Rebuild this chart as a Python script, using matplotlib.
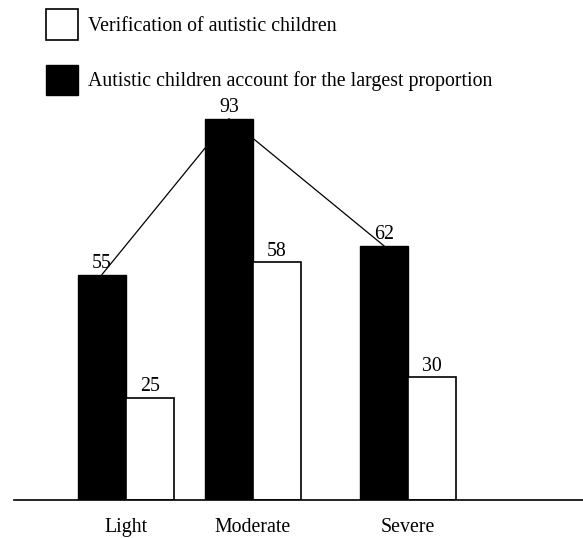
import matplotlib
matplotlib.use("Agg")
import matplotlib.pyplot as plt
import numpy as np

# ---- data ----
categories = ["Light", "Moderate", "Severe"]
largest_proportion = [55, 93, 62]   # black bars
verification = [25, 58, 30]         # white bars
label_black = "Autistic children account for the largest proportion"
label_white = "Verification of autistic children"

# ---- layout ----
group_pos = np.array([0.0, 1.0, 2.22])
bar_w = 0.378

plt.rcParams["font.family"] = ["Liberation Serif", "DejaVu Serif"]

W, H = 583, 538
fig = plt.figure(figsize=(W / 100, H / 100), dpi=100)
ax = fig.add_axes([14 / W, 38 / H, 1 - 14 / W, 1 - 38 / H])

b1 = ax.bar(group_pos - bar_w / 2, largest_proportion, bar_w, color="black",
            edgecolor="black", linewidth=1.0, zorder=2, label=label_black)
b2 = ax.bar(group_pos + bar_w / 2, verification, bar_w, color="white",
            edgecolor="black", linewidth=1.2, zorder=2, label=label_white)
ax.plot(group_pos - bar_w / 2, largest_proportion, color="black", lw=0.9, zorder=1)

ax.bar_label(b1, padding=1, fontsize=14.3)
ax.bar_label(b2, padding=1, fontsize=14.3)

ax.set_xlim((14 - 126) / 127, (583 - 126) / 127)
ax.set_ylim(0, 500 / 4.1)
ax.set_xticks(group_pos)
ax.set_xticklabels(categories, fontsize=14.3)
ax.tick_params(axis="x", length=0, pad=13)
ax.set_yticks([])
for s in ["left", "top", "right"]:
    ax.spines[s].set_visible(False)
ax.spines["bottom"].set_linewidth(1.2)

fs = 14.3
fs_px = fs * 100 / 72
leg = fig.legend(handles=[b2, b1], labels=[label_white, label_black],
                 loc="upper left", bbox_to_anchor=(46 / W, 1 - 9 / H),
                 frameon=False, fontsize=fs, borderpad=0, borderaxespad=0,
                 handlelength=32 / fs_px, handleheight=39.5 / fs_px,
                 labelspacing=25 / fs_px, handletextpad=0.5)

fig.savefig("out.png", dpi=100)
